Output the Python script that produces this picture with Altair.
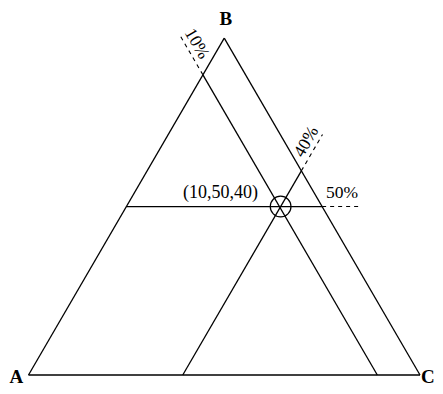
import math
import altair as alt
import pandas as pd

# ---- values ----
vertex_names = ["A", "B", "C"]
point_label = "(10,50,40)"
line_labels = ["10%", "50%", "40%"]
# positions (percent) at which the three guide lines are drawn
line_a = 10.9
line_b = 50.0
line_c = 39.4

H3 = math.sqrt(3) / 2


def tern(a, b, c):
    """ternary fractions (A, B, C) -> cartesian, A=(0,0), C=(1,0), B=(0.5, h)"""
    return (c + b / 2.0, b * H3)


a, b, c = line_a / 100, line_b / 100, line_c / 100

VA, VB, VC = tern(1, 0, 0), tern(0, 1, 0), tern(0, 0, 1)

# line of constant A (parallel to BC)
pa1 = tern(a, 1 - a, 0)
pa2 = tern(a, 0, 1 - a)
# line of constant B (horizontal)
pb1 = tern(1 - b, b, 0)
pb2 = tern(0, b, 1 - b)
# line of constant C (parallel to AB)
pc1 = tern(1 - c, 0, c)
pc2 = tern(0, 1 - c, c)

ext_a = 0.115
ext_b = 0.092
ext_c = 0.108
da = (-0.5, H3)   # outward direction of A line past AB
dc = (0.5, H3)    # outward direction of C line past BC

solid = pd.DataFrame([
    dict(x=VA[0], y=VA[1], x2=VB[0], y2=VB[1]),
    dict(x=VB[0], y=VB[1], x2=VC[0], y2=VC[1]),
    dict(x=VC[0], y=VC[1], x2=VA[0], y2=VA[1]),
    dict(x=pa1[0], y=pa1[1], x2=pa2[0], y2=pa2[1]),
    dict(x=pb1[0], y=pb1[1], x2=pb2[0], y2=pb2[1]),
    dict(x=pc1[0], y=pc1[1], x2=pc2[0], y2=pc2[1]),
])

dashed = pd.DataFrame([
    dict(x=pa1[0], y=pa1[1], x2=pa1[0] + ext_a * da[0], y2=pa1[1] + ext_a * da[1]),
    dict(x=pb2[0], y=pb2[1], x2=pb2[0] + ext_b, y2=pb2[1]),
    dict(x=pc2[0], y=pc2[1], x2=pc2[0] + ext_c * dc[0], y2=pc2[1] + ext_c * dc[1]),
])

pt = tern(a, b, c)
point_df = pd.DataFrame([dict(x=pt[0], y=pt[1])])

# text positions
vertex_df = pd.DataFrame([
    dict(x=VA[0] - 0.031, y=VA[1] - 0.004, t=vertex_names[0]),
    dict(x=VB[0] + 0.004, y=VB[1] + 0.049, t=vertex_names[1]),
    dict(x=VC[0] + 0.020, y=VC[1] - 0.004, t=vertex_names[2]),
])

lab_a = (pa1[0] + 0.077 * da[0] + 0.026 * H3, pa1[1] + 0.077 * da[1] + 0.026 * 0.5)
lab_c = (pc2[0] + 0.071 * dc[0] - 0.026 * H3, pc2[1] + 0.071 * dc[1] + 0.026 * 0.5)
lab_b = (pb2[0] + 0.051, pb2[1] + 0.034)

label_df = pd.DataFrame([
    dict(x=lab_a[0], y=lab_a[1], t=line_labels[0], ang=60),
    dict(x=lab_b[0], y=lab_b[1], t=line_labels[1], ang=0),
    dict(x=lab_c[0], y=lab_c[1], t=line_labels[2], ang=300),
])

point_lab_df = pd.DataFrame([dict(x=pt[0] - 0.058, y=pt[1] + 0.035, t=point_label)])

# ---- layout: map data units to pixels ----
W, H = 427, 378
sx, sy = 391.5, 389.0
x0 = -(28.5 - 8) / sx
x1 = x0 + W / sx
y1 = (375 - 8) / sy
y0 = y1 - H / sy

xs = alt.Scale(domain=[x0, x1], nice=False, zero=False)
ys = alt.Scale(domain=[y0, y1], nice=False, zero=False)

FONT = "Liberation Serif"

base_enc = dict(x=alt.X("x:Q", scale=xs, axis=None), y=alt.Y("y:Q", scale=ys, axis=None))

solid_layer = alt.Chart(solid).mark_rule(color="black", strokeWidth=1.3).encode(
    **base_enc, x2="x2:Q", y2="y2:Q")
dashed_layer = alt.Chart(dashed).mark_rule(color="black", strokeWidth=1.1, strokeDash=[4, 4]).encode(
    **base_enc, x2="x2:Q", y2="y2:Q")
circle_layer = alt.Chart(point_df).mark_point(
    shape="circle", size=430, filled=False, color="black", strokeWidth=1.2, opacity=1).encode(**base_enc)
vertex_layer = alt.Chart(vertex_df).mark_text(
    font=FONT, fontSize=19, fontWeight="bold", color="black", align="center", baseline="middle").encode(
    **base_enc, text="t:N")
label_layer = alt.Chart(label_df).mark_text(
    font=FONT, fontSize=17.5, color="black", align="center", baseline="middle").encode(
    **base_enc, text="t:N", angle=alt.Angle("ang:Q", scale=None))
point_lab_layer = alt.Chart(point_lab_df).mark_text(
    font=FONT, fontSize=18, color="black", align="right", baseline="middle").encode(
    **base_enc, text="t:N")

chart = alt.layer(
    solid_layer, dashed_layer, circle_layer, vertex_layer, label_layer, point_lab_layer
).properties(
    width=W, height=H, padding=0, autosize=alt.AutoSizeParams(type="none"), background="white"
).configure_view(stroke=None)

chart.save("out.html", embed_options={"renderer": "svg", "actions": False})
